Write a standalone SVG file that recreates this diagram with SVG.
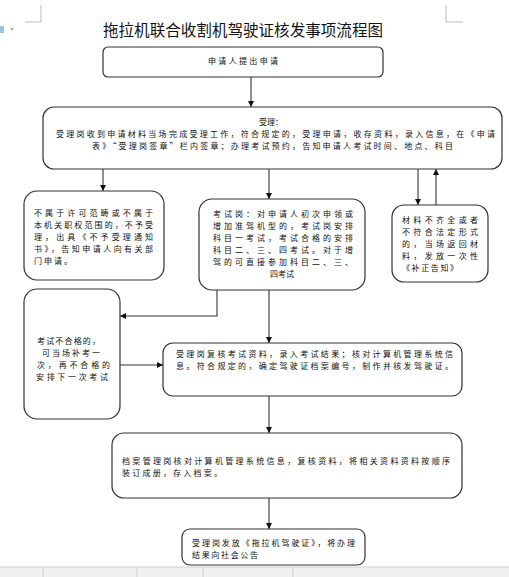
<svg xmlns="http://www.w3.org/2000/svg" width="509" height="577" viewBox="0 0 509 577">
<defs>
<style>
.box{fill:#fff;stroke:#333;stroke-width:1.2}
.ln{fill:none;stroke:#333;stroke-width:1.1}
.t{font-family:"Noto Sans CJK SC","Liberation Sans",sans-serif;font-size:8px;fill:#111}
.title{font-family:"Noto Sans CJK SC","Liberation Sans",sans-serif;font-size:15.5px;fill:#111}
.mark{fill:none;stroke:#bbb;stroke-width:1}
</style>
<marker id="ah" viewBox="0 0 10 10" refX="10" refY="5" markerWidth="6" markerHeight="6" orient="auto" markerUnits="userSpaceOnUse">
<path d="M0,0 L10,5 L0,10 z" fill="#111"/>
</marker>
</defs>
<rect x="0" y="0" width="509" height="577" fill="#fff"/>
<path class="mark" d="M25,22 H41 V5 M463,22 H446 V5"/>
<rect x="0" y="26" width="4" height="7" fill="#9fc0e0"/>
<path d="M10,28 L14,28 L12,31 z" fill="#aaa"/>
<text class="title" x="243" y="36" text-anchor="middle" textLength="280" lengthAdjust="spacingAndGlyphs">拖拉机联合收割机驾驶证核发事项流程图</text>

<g id="connectors">
<path class="ln" d="M251,77 V107" marker-end="url(#ah)"/>
<path class="ln" d="M103,169 V191" marker-end="url(#ah)"/>
<path class="ln" d="M269,169 V199" marker-end="url(#ah)"/>
<path class="ln" d="M418,169 V205" marker-end="url(#ah)"/>
<path class="ln" d="M436,205 V169" marker-end="url(#ah)"/>
<path class="ln" d="M217,290 V316 H120" marker-end="url(#ah)"/>
<path class="ln" d="M120,365 H163" marker-end="url(#ah)"/>
<path class="ln" d="M269,290 V343" marker-end="url(#ah)"/>
<path class="ln" d="M269,396 V433" marker-end="url(#ah)"/>
<path class="ln" d="M269,498 V529" marker-end="url(#ah)"/>
</g>

<g id="n1">
<rect class="box" x="103" y="47" width="280" height="30" rx="5"/>
<text class="t" x="208" y="64" textLength="70">申请人提出申请</text>
</g>

<g id="n2">
<rect class="box" x="43" y="107" width="459" height="62" rx="11"/>
<text class="t" x="271" y="125" text-anchor="middle">受理：</text>
<text class="t" x="56" y="137" textLength="439">受理岗收到申请材料当场完成受理工作，符合规定的，受理申请，收存资料，录入信息，在《申请</text>
<text class="t" x="92" y="149" textLength="361">表》“受理岗签章”栏内签章；办理考试预约，告知申请人考试时间、地点、科目</text>
</g>

<g id="n3">
<rect class="box" x="24" y="191" width="140" height="89" rx="13"/>
<text class="t" x="34" y="216" textLength="119">不属于许可范畴或不属于</text>
<text class="t" x="34" y="228" textLength="119">本机关职权范围的，不予受</text>
<text class="t" x="34" y="240" textLength="119">理，出具《不予受理通知</text>
<text class="t" x="34" y="252" textLength="119">书》，告知申请人向有关部</text>
<text class="t" x="34" y="264" textLength="38">门申请。</text>
</g>

<g id="n4">
<rect class="box" x="199" y="199" width="166" height="91" rx="13"/>
<text class="t" x="213" y="217" textLength="140">考试岗：对申请人初次申领或</text>
<text class="t" x="213" y="229" textLength="140">增加准驾机型的，考试岗安排</text>
<text class="t" x="213" y="241" textLength="140">科目一考试，考试合格的安排</text>
<text class="t" x="213" y="253" textLength="140">科目二、三、四考试。对于增</text>
<text class="t" x="213" y="265" textLength="140">驾的可直接参加科目二、三、</text>
<text class="t" x="282" y="277" text-anchor="middle">四考试</text>
</g>

<g id="n5">
<rect class="box" x="392" y="205" width="96" height="77" rx="12"/>
<text class="t" x="402" y="223" textLength="76">材料不齐全或者</text>
<text class="t" x="402" y="235" textLength="76">不符合法定形式</text>
<text class="t" x="402" y="247" textLength="76">的，当场返回材</text>
<text class="t" x="402" y="259" textLength="76">料，发放一次性</text>
<text class="t" x="402" y="271" textLength="56">《补正告知》</text>
</g>

<g id="n6">
<rect class="box" x="24" y="289" width="96" height="130" rx="13"/>
<text class="t" x="37" y="344" textLength="63">考试不合格的，</text>
<text class="t" x="42" y="356" textLength="58">可当场补考一</text>
<text class="t" x="37" y="368" textLength="73">次，再不合格的</text>
<text class="t" x="36" y="380" textLength="72">安排下一次考试</text>
</g>

<g id="n7">
<rect class="box" x="163" y="343" width="299" height="53" rx="10"/>
<text class="t" x="176" y="357" textLength="277">受理岗复核考试资料，录入考试结果；核对计算机管理系统信</text>
<text class="t" x="176" y="369" textLength="277">息。符合规定的，确定驾驶证档案编号，制作并核发驾驶证。</text>
</g>

<g id="n8">
<rect class="box" x="112" y="433" width="350" height="65" rx="12"/>
<text class="t" x="122" y="464" textLength="328">档案管理岗核对计算机管理系统信息，复核资料，将相关资料资料按顺序</text>
<text class="t" x="122" y="476" textLength="100">装订成册，存入档案。</text>
</g>

<g id="n9">
<rect class="box" x="182" y="529" width="183" height="36" rx="8"/>
<text class="t" x="192" y="546" textLength="163">受理岗发放《拖拉机驾驶证》，将办理</text>
<text class="t" x="192" y="558" textLength="66">结果向社会公告</text>
</g>

<rect x="0" y="567" width="509" height="10" fill="#f0f0f0"/>
<path d="M0,567 H509 M43,568 V577 M137,568 V577 M203,568 V577 M293,568 V577" stroke="#d0d0d0" stroke-width="1" fill="none"/>
</svg>
